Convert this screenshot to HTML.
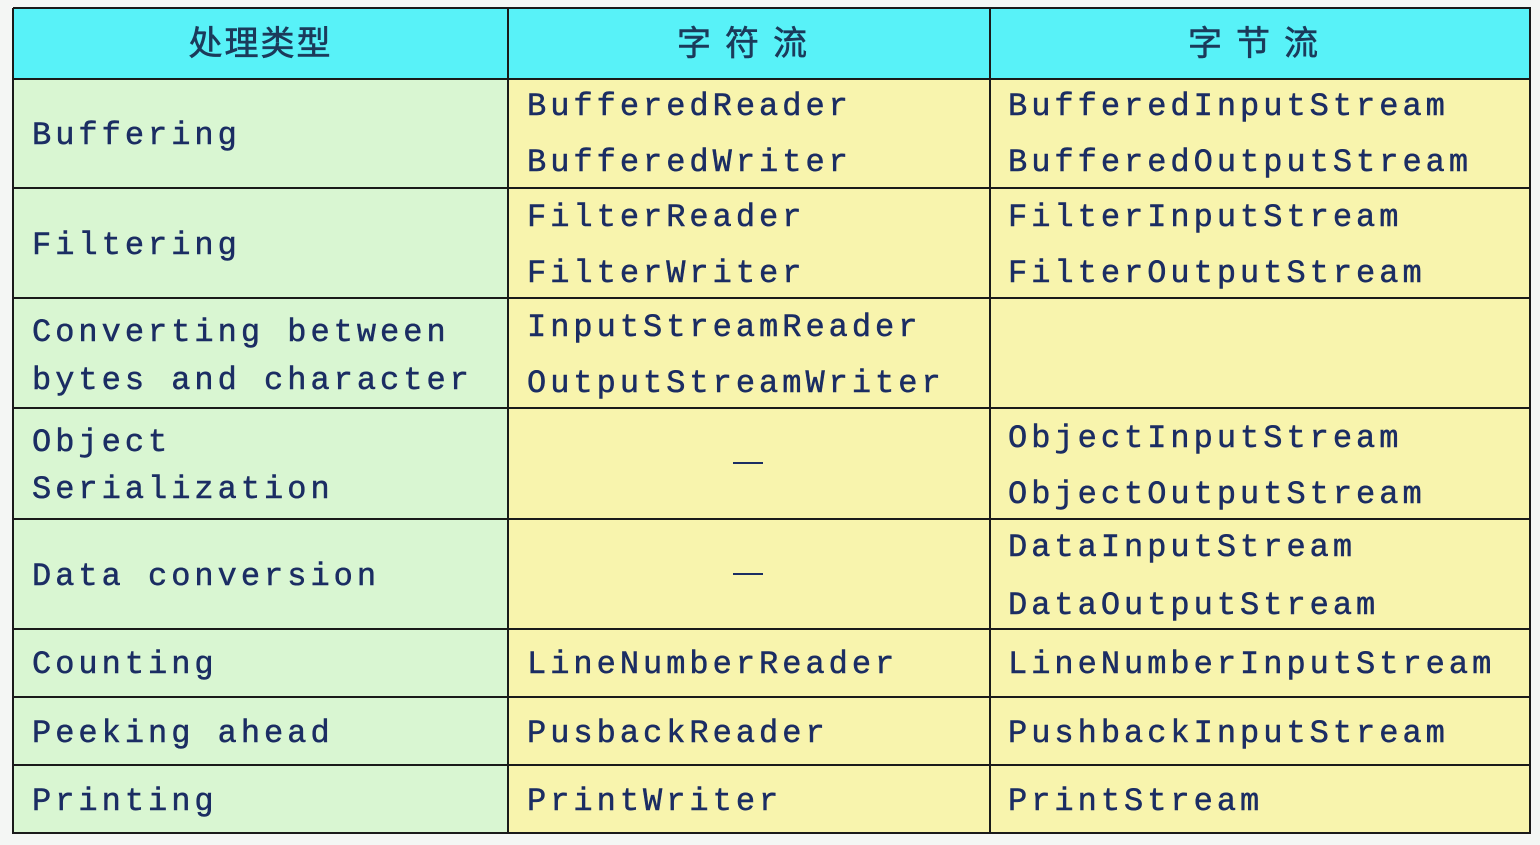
<!DOCTYPE html>
<html><head><meta charset="utf-8"><style>
body{margin:0;width:1540px;height:845px;background:#f4f6f4;position:relative;overflow:hidden}
.c{position:absolute;box-sizing:border-box}
.t{position:absolute;font-family:"Liberation Mono",monospace;font-size:32px;letter-spacing:4px;line-height:36px;color:#1b2d63;-webkit-text-stroke:0.5px #1b2d63;white-space:nowrap;margin-top:3px}
.h{position:absolute;font-family:"Liberation Sans","Noto Sans CJK SC",sans-serif;font-size:34px;line-height:40px;color:#1b3a5a;top:24px;text-align:center;letter-spacing:6px;-webkit-text-stroke:0.6px #1b3a5a}
.vl{position:absolute;top:8px;width:2px;height:826px;background:#1a1a1a}
.hl{position:absolute;left:13px;width:1518px;height:2px;background:#1a1a1a}
</style></head><body>
<div class="c" style="left:13px;top:8px;width:1517px;height:71px;background:#58f2f8"></div>
<div class="c" style="left:13px;top:79px;width:495px;height:754px;background:#d9f6d2"></div>
<div class="c" style="left:508px;top:79px;width:1022px;height:754px;background:#f8f4ad"></div>
<div class="vl" style="left:12px"></div><div class="vl" style="left:507px"></div><div class="vl" style="left:989px"></div><div class="vl" style="left:1529px"></div>
<div class="hl" style="top:7px"></div><div class="hl" style="top:78px"></div><div class="hl" style="top:187px"></div><div class="hl" style="top:297px"></div><div class="hl" style="top:407px"></div><div class="hl" style="top:518px"></div><div class="hl" style="top:628px"></div><div class="hl" style="top:696px"></div><div class="hl" style="top:764px"></div><div class="hl" style="top:832px"></div>
<div class="h" style="left:13px;width:495px;letter-spacing:2px">处理类型</div>
<div class="h" style="left:508px;width:482px;letter-spacing:14px">字符流</div>
<div class="h" style="left:990px;width:540px;letter-spacing:14px">字节流</div>

<div class="t" style="left:32px;top:115px">Buffering</div>
<div class="t" style="left:527px;top:86px">BufferedReader</div>
<div class="t" style="left:527px;top:142px">BufferedWriter</div>
<div class="t" style="left:1008px;top:86px">BufferedInputStream</div>
<div class="t" style="left:1008px;top:142px">BufferedOutputStream</div>

<div class="t" style="left:32px;top:225px">Filtering</div>
<div class="t" style="left:527px;top:197px">FilterReader</div>
<div class="t" style="left:527px;top:253px">FilterWriter</div>
<div class="t" style="left:1008px;top:197px">FilterInputStream</div>
<div class="t" style="left:1008px;top:253px">FilterOutputStream</div>

<div class="t" style="left:32px;top:312px">Converting between</div>
<div class="t" style="left:32px;top:360px">bytes and character</div>
<div class="t" style="left:527px;top:307px">InputStreamReader</div>
<div class="t" style="left:527px;top:363px">OutputStreamWriter</div>

<div class="t" style="left:32px;top:422px">Object</div>
<div class="t" style="left:32px;top:469px">Serialization</div>
<div class="c" style="left:733px;top:462px;width:30px;height:2px;background:#1b2d63"></div>
<div class="t" style="left:1008px;top:418px">ObjectInputStream</div>
<div class="t" style="left:1008px;top:474px">ObjectOutputStream</div>

<div class="t" style="left:32px;top:556px">Data conversion</div>
<div class="c" style="left:733px;top:573px;width:30px;height:2px;background:#1b2d63"></div>
<div class="t" style="left:1008px;top:527px">DataInputStream</div>
<div class="t" style="left:1008px;top:585px">DataOutputStream</div>

<div class="t" style="left:32px;top:644px">Counting</div>
<div class="t" style="left:527px;top:644px">LineNumberReader</div>
<div class="t" style="left:1008px;top:644px">LineNumberInputStream</div>

<div class="t" style="left:32px;top:713px">Peeking ahead</div>
<div class="t" style="left:527px;top:713px">PusbackReader</div>
<div class="t" style="left:1008px;top:713px">PushbackInputStream</div>

<div class="t" style="left:32px;top:781px">Printing</div>
<div class="t" style="left:527px;top:781px">PrintWriter</div>
<div class="t" style="left:1008px;top:781px">PrintStream</div>
</body></html>
